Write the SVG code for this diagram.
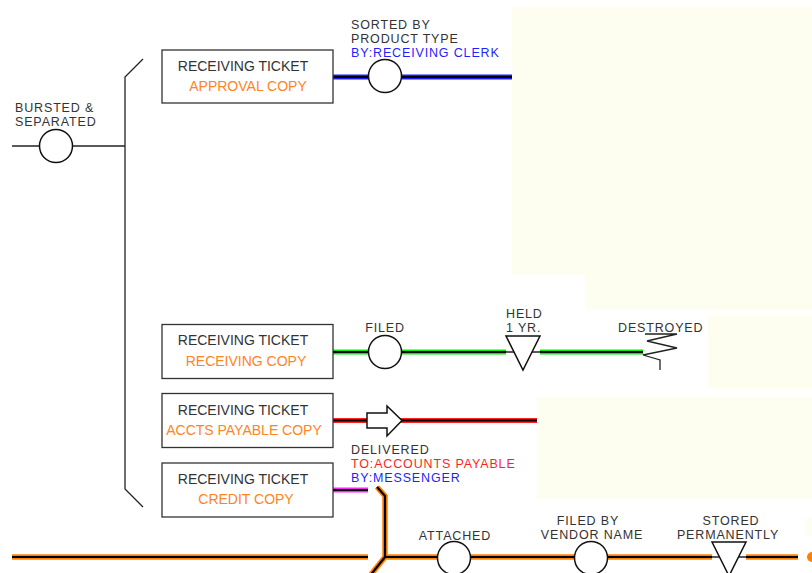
<svg xmlns="http://www.w3.org/2000/svg" width="812" height="573" viewBox="0 0 812 573">
<style>
text{font-family:"Liberation Sans",Arial,sans-serif;font-size:14px;fill:#333}
.s{font-size:12.5px;letter-spacing:0.85px}
.c{text-anchor:middle}
.cp{fill:#ff8424}
.bl{fill:#1f1fff}
.rd{fill:#ff1f1f}
.box{fill:#fff;stroke:#333;stroke-width:1.3}
.node{fill:#fff;stroke:#111;stroke-width:1.5}
.thin{stroke:#222;stroke-width:1.3;fill:none}
.core{stroke:#000;stroke-width:2.2;fill:none}
.ob{stroke:#1a1aff;stroke-width:5;fill:none}
.og{stroke:#00ee00;stroke-width:5;fill:none}
.or{stroke:#ff2020;stroke-width:5;fill:none}
.om{stroke:#ff22ff;stroke-width:5;fill:none}
.oo{stroke:#ff8000;stroke-width:5.5;fill:none}
</style>
<g id="background">
<rect x="512" y="7" width="300" height="268" fill="#fefef0"/>
<rect x="585" y="275" width="227" height="35" fill="#fefef0"/>
<rect x="708" y="315" width="104" height="74" fill="#fefef0"/>
<rect x="537" y="397" width="275" height="102" fill="#fefef0"/>
<rect x="806" y="518" width="6" height="18" fill="#fefef0"/>
</g>
<g id="connectors">
<line class="thin" x1="12" y1="146" x2="125" y2="146"/>
<polyline class="thin" points="143,59 125,77 125,489 143,507"/>
<line class="ob" x1="333" y1="77" x2="512" y2="77"/><line class="core" x1="333" y1="77" x2="512" y2="77"/>
<line class="og" x1="333" y1="352" x2="506" y2="352"/><line class="core" x1="333" y1="352" x2="506" y2="352"/>
<line class="thin" x1="506" y1="352" x2="540" y2="352"/>
<line class="og" x1="540" y1="352" x2="643" y2="352"/><line class="core" x1="540" y1="352" x2="643" y2="352"/>
<line class="or" x1="333" y1="420.5" x2="537" y2="420.5"/><line class="core" x1="333" y1="420.5" x2="537" y2="420.5"/>
<line class="om" x1="333" y1="490" x2="368" y2="490"/><line class="core" x1="333" y1="490" x2="368" y2="490"/>
<line class="oo" x1="12" y1="557" x2="368" y2="557"/><line class="core" x1="12" y1="557" x2="368" y2="557"/>
<path class="oo" d="M377,487 L385,496 L385,557 L369,577 M385,557 L712,557 M746,557 L798,557"/>
<path class="core" d="M377,487 L385,496 L385,557 L369,577 M385,557 L712,557 M746,557 L798,557"/>
<line class="thin" x1="712" y1="557" x2="746" y2="557"/>
<circle cx="812" cy="557" r="5" fill="#ff8000"/>
</g>
<g id="n-bursted">
<circle class="node" cx="56" cy="146" r="16.5"/>
<text class="s" x="15" y="112">BURSTED &amp;</text>
<text class="s" x="15" y="126">SEPARATED</text>
</g>
<g id="n-approval">
<rect class="box" x="162" y="50" width="171" height="53"/>
<text class="c" x="243" y="71">RECEIVING TICKET</text>
<text class="c cp" x="248" y="91">APPROVAL COPY</text>
</g>
<g id="n-receiving">
<rect class="box" x="162" y="324.5" width="171" height="54"/>
<text class="c" x="243" y="345">RECEIVING TICKET</text>
<text class="c cp" x="246" y="366">RECEIVING COPY</text>
</g>
<g id="n-acctspay">
<rect class="box" x="162" y="393.5" width="171" height="54"/>
<text class="c" x="243" y="415">RECEIVING TICKET</text>
<text class="c cp" x="244" y="435">ACCTS PAYABLE COPY</text>
</g>
<g id="n-credit">
<rect class="box" x="162" y="463" width="171" height="54"/>
<text class="c" x="243" y="484">RECEIVING TICKET</text>
<text class="c cp" x="246" y="504">CREDIT COPY</text>
</g>
<g id="n-sorted">
<circle class="node" cx="385" cy="76" r="16.5"/>
<text class="s" x="351" y="29">SORTED BY</text>
<text class="s" x="351" y="43">PRODUCT TYPE</text>
<text class="s bl" x="351" y="57">BY:RECEIVING CLERK</text>
</g>
<g id="n-filed">
<circle class="node" cx="385" cy="352" r="16.5"/>
<text class="s c" x="385" y="332">FILED</text>
</g>
<g id="n-held">
<polygon class="node" points="506,336 540,336 523,370"/>
<text class="s" x="506" y="318">HELD</text>
<text class="s" x="506" y="332">1 YR.</text>
</g>
<g id="n-destroyed">
<polyline class="thin" points="645,334 677,334 647,341 677,348 643,355 660,360 660,370"/>
<text class="s" x="618" y="332">DESTROYED</text>
</g>
<g id="n-delivered">
<polygon class="node" points="367,413 387,413 387,406 402,420.5 387,436 387,428 367,428"/>
<text class="s" x="351" y="454">DELIVERED</text>
<text class="s rd" x="351" y="468">TO:ACCOUNTS PAYABLE</text>
<text class="s bl" x="351" y="482">BY:MESSENGER</text>
</g>
<g id="n-attached">
<circle class="node" cx="454" cy="558" r="16.5"/>
<text class="s c" x="455" y="540">ATTACHED</text>
</g>
<g id="n-filedby">
<circle class="node" cx="591" cy="558" r="16.5"/>
<text class="s c" x="588" y="525">FILED BY</text>
<text class="s c" x="592" y="539">VENDOR NAME</text>
</g>
<g id="n-stored">
<polygon class="node" points="712,542 746,542 729,576"/>
<text class="s c" x="731" y="525">STORED</text>
<text class="s c" x="728" y="539">PERMANENTLY</text>
</g>
</svg>
